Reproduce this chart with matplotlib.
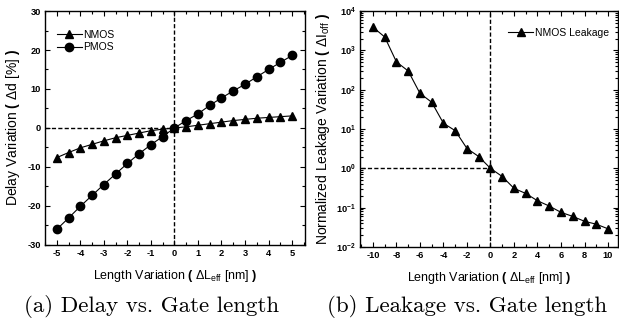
import math
import matplotlib
matplotlib.use("Agg")
import matplotlib.pyplot as plt
from matplotlib import ticker

plt.rcParams["font.family"] = ["Liberation Sans", "DejaVu Sans"]
plt.rcParams["axes.unicode_minus"] = False
plt.rcParams["mathtext.fontset"] = "custom"
plt.rcParams["mathtext.rm"] = "Liberation Sans"
plt.rcParams["mathtext.bf"] = "Liberation Sans:bold"

# ---- (a) delay vs gate length ----
dl_x = [-5, -4.5, -4, -3.5, -3, -2.5, -2, -1.5, -1, -0.5, 0,
        0.5, 1, 1.5, 2, 2.5, 3, 3.5, 4, 4.5, 5]
nmos_delay = [-7.6, -6.3, -5.1, -4.2, -3.3, -2.5, -1.9, -1.3, -0.7, -0.3, 0.0,
              0.3, 0.7, 1.1, 1.5, 1.9, 2.2, 2.5, 2.7, 2.9, 3.1]
pmos_delay = [-26.0, -23.1, -20.1, -17.3, -14.5, -11.8, -9.1, -6.6, -4.3, -2.2, 0.0,
              1.9, 3.6, 5.8, 7.7, 9.5, 11.2, 13.1, 15.0, 16.8, 18.6]

# ---- (b) leakage vs gate length ----
lk_x = list(range(-10, 11))
nmos_leak = [3900, 2200, 510, 300, 81, 48, 14, 9.1, 3.2, 2.0, 1.0,
             0.62, 0.31, 0.23, 0.15, 0.11, 0.076, 0.06, 0.045, 0.038, 0.029]

xlabel = r"Length Variation $\mathbf{(}$ $\Delta$L$_{\mathrm{eff}}$ [nm] $\mathbf{)}$"
DASH = (0, (3, 1.6))

fig = plt.figure(figsize=(6.19, 3.24), dpi=100)
fig.patch.set_facecolor("white")


def style(ax):
    ax.tick_params(which="both", direction="in", top=True, right=True,
                   labelsize=6.7, width=0.8, pad=3)
    ax.tick_params(which="major", length=3.5)
    ax.tick_params(which="minor", length=2)
    for s in ax.spines.values():
        s.set_linewidth(1.0)
    for lb in ax.get_xticklabels() + ax.get_yticklabels():
        lb.set_fontweight("bold")


ax1 = fig.add_axes([0.0727, 0.244, 0.420, 0.722])
ax1.plot(dl_x, nmos_delay, "k-^", lw=0.8, ms=6, label="NMOS")
ax1.plot(dl_x, pmos_delay, "k-o", lw=0.8, ms=6, label="PMOS")
ax1.plot([-5.5, 0], [0, 0], color="k", ls=DASH, lw=1.0)
ax1.plot([0, 0], [-30, 30], color="k", ls=DASH, lw=1.0)
ax1.set_xlim(-5.5, 5.55)
ax1.set_ylim(-30, 30)
ax1.xaxis.set_major_locator(ticker.MultipleLocator(1))
ax1.xaxis.set_minor_locator(ticker.MultipleLocator(0.5))
ax1.yaxis.set_major_locator(ticker.MultipleLocator(10))
ax1.yaxis.set_minor_locator(ticker.MultipleLocator(5))
ax1.set_xlabel(xlabel, fontsize=9, labelpad=7)
ax1.set_ylabel(r"Delay Variation $\mathbf{(}$ $\Delta$d [%] $\mathbf{)}$", fontsize=10, labelpad=4)
ax1.legend(loc="upper left", frameon=False, fontsize=7.5, handlelength=2.4,
           handletextpad=0.1, labelspacing=0.25, bbox_to_anchor=(0.01, 0.96))
style(ax1)

ax2 = fig.add_axes([0.5816, 0.2377, 0.4168, 0.728])
ax2.plot(lk_x, nmos_leak, "k-^", lw=0.8, ms=6, label="NMOS Leakage")
ax2.plot([-11, 0], [1, 1], color="k", ls=DASH, lw=1.0)
ax2.plot([0, 0], [1e-2, 1e4], color="k", ls=DASH, lw=1.0)
ax2.set_yscale("log")
ax2.set_xlim(-11.1, 10.85)
ax2.set_ylim(1e-2, 1e4)
ax2.xaxis.set_major_locator(ticker.MultipleLocator(2))
ax2.xaxis.set_minor_locator(ticker.MultipleLocator(1))
ax2.yaxis.set_major_locator(ticker.LogLocator(base=10, numticks=10))
ax2.yaxis.set_minor_locator(ticker.LogLocator(base=10, subs=range(2, 10), numticks=10))
ax2.yaxis.set_minor_formatter(ticker.NullFormatter())
ax2.yaxis.set_major_formatter(ticker.FuncFormatter(
    lambda v, p: r"$\mathbf{10^{%d}}$" % round(math.log10(v))))
ax2.set_xlabel(xlabel, fontsize=9, labelpad=7)
ax2.set_ylabel(r"Normalized Leakage Variation $\mathbf{(}$ $\Delta$I$_{\mathrm{off}}$ $\mathbf{)}$",
               fontsize=10, labelpad=3)
ax2.legend(loc="upper right", frameon=False, fontsize=7.5, handlelength=2.4,
           handletextpad=0.1, bbox_to_anchor=(1.0, 0.97))
style(ax2)

fig.text(0.245, 0.055, "(a) Delay vs. Gate length", family="cmr10", fontsize=16.5,
         ha="center", va="center")
fig.text(0.755, 0.055, "(b) Leakage vs. Gate length", family="cmr10", fontsize=16.5,
         ha="center", va="center")

fig.savefig("out.png", dpi=100, facecolor="white")
